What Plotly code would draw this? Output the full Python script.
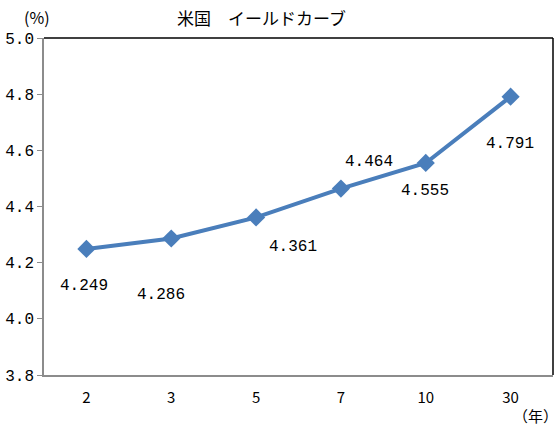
import plotly.graph_objects as go

# maturities (years) and yields (%)
MATURITIES = ["2", "3", "5", "7", "10", "30"]
YIELDS = [4.249, 4.286, 4.361, 4.464, 4.555, 4.791]
LABELS = ["4.249", "4.286", "4.361", "4.464", "4.555", "4.791"]
Y_TICKS = [3.8, 4.0, 4.2, 4.4, 4.6, 4.8, 5.0]

# label offsets in pixels from each point
LABEL_DX = [-2, -10, 37, 28, -1, -1]
LABEL_DY = [-37, -56, -30, 27, -28, -47]

JP_FONT = "Noto Sans CJK JP"
NUM_FONT = "Liberation Mono"
BLUE = "#4a7ebb"

fig = go.Figure()
fig.add_trace(go.Scatter(
    x=MATURITIES, y=YIELDS, mode="lines+markers",
    line=dict(color=BLUE, width=4),
    marker=dict(symbol="diamond", size=14, color=BLUE),
    showlegend=False, hoverinfo="skip",
))

# annotations on a category axis take the category index
for i, (v, t, dx, dy) in enumerate(zip(YIELDS, LABELS, LABEL_DX, LABEL_DY)):
    fig.add_annotation(x=i, y=v, text=t, showarrow=False, xshift=dx, yshift=dy,
                       xanchor="center", yanchor="middle",
                       font=dict(family=NUM_FONT, size=16, color="black"))

fig.update_layout(
    width=560, height=429,
    margin=dict(l=44, r=7, t=38, b=54),
    paper_bgcolor="white", plot_bgcolor="white",
    font=dict(family=NUM_FONT, size=16, color="black"),
)
fig.update_xaxes(
    type="category", range=[-0.5, len(MATURITIES) - 0.5], showgrid=False,
    showline=True, linecolor="#8c8c8c", linewidth=1.5,
    ticks="", ticklabelstandoff=8, automargin=False,
    tickfont=dict(family=JP_FONT, size=15),
)
fig.update_yaxes(
    range=[3.8, 5.0], tickvals=Y_TICKS, tickformat=".1f", showgrid=False,
    showline=True, linecolor="#8c8c8c", linewidth=1.5, ticks="outside", ticklen=5,
    tickcolor="#8c8c8c", zeroline=False, automargin=False,
)

# black frame on top and right
fig.add_shape(type="line", xref="paper", yref="paper", x0=0, x1=1, y0=1, y1=1,
              line=dict(color="black", width=1.5))
fig.add_shape(type="line", xref="paper", yref="paper", x0=1, x1=1, y0=0, y1=1,
              line=dict(color="black", width=1.5))

fig.add_annotation(xref="paper", yref="paper", x=0.5, y=1, xshift=-37, yshift=21,
                   xanchor="center", yanchor="middle", text="米国　イールドカーブ",
                   showarrow=False, font=dict(family=JP_FONT, size=17))
fig.add_annotation(xref="paper", yref="paper", x=0, y=1, xshift=-7, yshift=21,
                   xanchor="center", yanchor="middle", text="(%)",
                   showarrow=False, font=dict(family=JP_FONT, size=16))
fig.add_annotation(xref="paper", yref="paper", x=1, y=0, xshift=-18, yshift=-40,
                   xanchor="center", yanchor="middle", text="（年）",
                   showarrow=False, font=dict(family=JP_FONT, size=15))

# drop the browser's default body margin so the figure fills the window
fig.write_html("out.html", config={"displayModeBar": False},
               post_script="document.body.style.margin='0';")
